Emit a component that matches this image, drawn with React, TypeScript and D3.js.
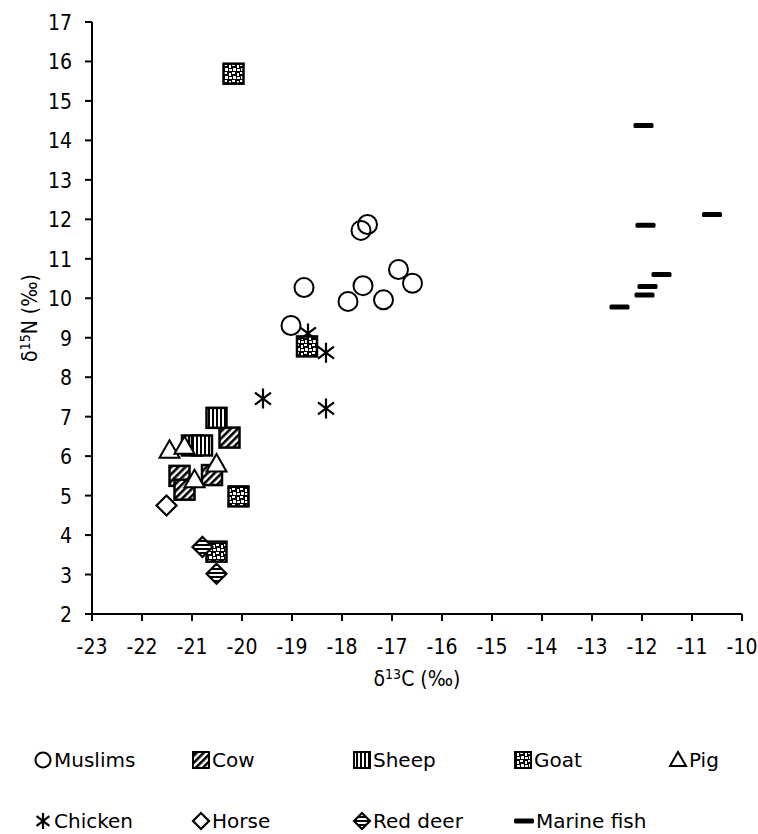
import React from 'react';
import * as d3 from 'd3';

// [δ13C, δ15N]
const muslims: [number, number][] = [
  [-17.62, 11.72], [-17.49, 11.87], [-18.76, 10.27], [-17.58, 10.32], [-17.88, 9.92],
  [-17.17, 9.96], [-16.87, 10.73], [-16.59, 10.38], [-19.02, 9.31],
];
const cow: [number, number][] = [[-20.25, 6.47], [-21.25, 5.5], [-21.15, 5.15], [-20.6, 5.52]];
const sheep: [number, number][] = [[-20.51, 6.97], [-21.0, 6.27], [-20.8, 6.27]];
const goat: [number, number][] = [[-20.17, 15.69], [-18.7, 8.78], [-20.07, 4.98], [-20.51, 3.58]];
const pig: [number, number][] = [[-21.45, 6.15], [-21.15, 6.25], [-20.95, 5.4], [-20.51, 5.8]];
const chicken: [number, number][] = [[-18.68, 9.11], [-18.32, 8.62], [-18.32, 7.21], [-19.58, 7.46]];
const horse: [number, number][] = [[-21.51, 4.75]];
const redDeer: [number, number][] = [[-20.79, 3.7], [-20.51, 3.02]];
const marineFish: [number, number][] = [
  [-11.97, 14.38], [-11.93, 11.85], [-10.6, 12.12], [-11.61, 10.6],
  [-11.89, 10.3], [-11.95, 10.08], [-12.45, 9.78],
];

const xTicks = d3.range(-23, -9, 1);
const yTicks = d3.range(2, 18, 1);

type Kind = 'circle' | 'cow' | 'sheep' | 'goat' | 'pig' | 'chicken' | 'horse' | 'deer' | 'fish';

const series: { name: string; kind: Kind; data: [number, number][] }[] = [
  { name: 'Muslims', kind: 'circle', data: muslims },
  { name: 'Cow', kind: 'cow', data: cow },
  { name: 'Sheep', kind: 'sheep', data: sheep },
  { name: 'Goat', kind: 'goat', data: goat },
  { name: 'Pig', kind: 'pig', data: pig },
  { name: 'Chicken', kind: 'chicken', data: chicken },
  { name: 'Horse', kind: 'horse', data: horse },
  { name: 'Red deer', kind: 'deer', data: redDeer },
  { name: 'Marine fish', kind: 'fish', data: marineFish },
];

const FONT = '"DejaVu Sans", Verdana, sans-serif';
const COND = '"DejaVu Sans Condensed", "DejaVu Sans", sans-serif';

const Marker = ({ kind, x, y, s }: { kind: Kind; x: number; y: number; s: number }) => {
  const h = s / 2;
  const sw = s > 16 ? 2.5 : 2;
  switch (kind) {
    case 'circle':
      return <circle cx={x} cy={y} r={h - 0.5} fill="none" stroke="#000" strokeWidth={2} />;
    case 'cow':
    case 'sheep':
    case 'goat':
      return (
        <rect x={x - h} y={y - h} width={s} height={s}
          fill={`url(#pat-${kind})`} stroke="#000" strokeWidth={sw} />
      );
    case 'pig': {
      const p = `M${x},${y - h}L${x + h},${y + h * 0.75}L${x - h},${y + h * 0.75}Z`;
      return <path d={p} fill="#fff" stroke="#000" strokeWidth={2} />;
    }
    case 'horse':
    case 'deer': {
      const p = `M${x},${y - h}L${x + h},${y}L${x},${y + h}L${x - h},${y}Z`;
      return <path d={p} fill={kind === 'deer' ? 'url(#pat-deer)' : '#fff'} stroke="#000" strokeWidth={2.2} />;
    }
    case 'chicken': {
      const a = h * 0.8, b = h * 0.6;
      const p = `M${x},${y - h}L${x},${y + h}M${x - a},${y - b}L${x + a},${y + b}M${x + a},${y - b}L${x - a},${y + b}`;
      return <path d={p} stroke="#000" strokeWidth={2.2} fill="none" />;
    }
    case 'fish':
      return <rect x={x - h} y={y - 2.5} width={s} height={5} rx={1.5} fill="#000" />;
  }
  return null;
};

const legendItems: { name: string; kind: Kind; x: number; row: number }[] = [
  { name: 'Muslims', kind: 'circle', x: 43, row: 0 },
  { name: 'Cow', kind: 'cow', x: 201, row: 0 },
  { name: 'Sheep', kind: 'sheep', x: 362, row: 0 },
  { name: 'Goat', kind: 'goat', x: 523, row: 0 },
  { name: 'Pig', kind: 'pig', x: 678, row: 0 },
  { name: 'Chicken', kind: 'chicken', x: 43, row: 1 },
  { name: 'Horse', kind: 'horse', x: 201, row: 1 },
  { name: 'Red deer', kind: 'deer', x: 362, row: 1 },
  { name: 'Marine fish', kind: 'fish', x: 524, row: 1 },
];

export default function App() {
  const x = d3.scaleLinear().domain([-23, -10]).range([92, 742]);
  const y = d3.scaleLinear().domain([2, 17]).range([614, 22]);
  const [x0, x1] = x.range();
  const [y0, y1] = y.range();

  return (
    <svg width={758} height={834} style={{ position: 'absolute', left: 0, top: 0, background: '#fff' }}
      fontFamily={FONT}>
      <defs>
        <pattern id="pat-cow" width={5} height={5} patternUnits="userSpaceOnUse" patternTransform="rotate(45)">
          <rect width={5} height={5} fill="#fff" />
          <rect width={2.6} height={5} fill="#000" />
        </pattern>
        <pattern id="pat-sheep" width={4} height={4} patternUnits="userSpaceOnUse">
          <rect width={4} height={4} fill="#fff" />
          <rect width={2} height={4} fill="#000" />
        </pattern>
        <pattern id="pat-deer" width={4} height={4} patternUnits="userSpaceOnUse">
          <rect width={4} height={4} fill="#fff" />
          <rect width={4} height={2} fill="#000" />
        </pattern>
        <pattern id="pat-goat" width={8} height={8} patternUnits="userSpaceOnUse">
          <rect width={8} height={8} fill="#000" />
          <rect x={0} y={0} width={3} height={2} fill="#fff" />
          <rect x={5} y={1} width={2} height={3} fill="#fff" />
          <rect x={1} y={4} width={3} height={3} fill="#fff" />
          <rect x={5} y={5} width={3} height={2} fill="#fff" />
        </pattern>
      </defs>

      {/* axes */}
      <line x1={x0} x2={x1} y1={y0} y2={y0} stroke="#000" strokeWidth={2} />
      <line x1={x0} x2={x0} y1={y0} y2={y1} stroke="#000" strokeWidth={2} />
      {xTicks.map(t => (
        <g key={`xt${t}`}>
          <line x1={x(t)} x2={x(t)} y1={y0} y2={y0 + 7} stroke="#000" strokeWidth={2} />
          <text x={x(t)} y={654} textAnchor="middle" fontSize={21} fontFamily={COND}>{t}</text>
        </g>
      ))}
      {yTicks.map(t => (
        <g key={`yt${t}`}>
          <line x1={x0 - 7} x2={x0} y1={y(t)} y2={y(t)} stroke="#000" strokeWidth={2} />
          <text x={72} y={y(t) + 8} textAnchor="end" fontSize={21} fontFamily={COND}>{t}</text>
        </g>
      ))}
      <text x={(x0 + x1) / 2} y={686} textAnchor="middle" fontSize={21} fontFamily={COND}>
        δ<tspan fontSize={14} dy={-7}>13</tspan><tspan dy={7}>C (‰)</tspan>
      </text>
      <text transform={`translate(37,${(y0 + y1) / 2}) rotate(-90)`} textAnchor="middle" fontSize={21} fontFamily={COND}>
        δ<tspan fontSize={14} dy={-7}>15</tspan><tspan dy={7}>N (‰)</tspan>
      </text>

      {/* points */}
      {series.map(s => (
        <g key={s.name}>
          {s.data.map((d, i) => (
            <Marker key={i} kind={s.kind} x={x(d[0])} y={y(d[1])} s={20} />
          ))}
        </g>
      ))}

      {/* legend */}
      {legendItems.map(l => {
        const cy = l.row === 0 ? 760 : 821;
        return (
          <g key={l.name}>
            <Marker kind={l.kind} x={l.x} y={cy} s={l.kind === 'fish' ? 20 : 16} />
            <text x={l.x + (l.kind === 'fish' ? 12 : 11)} y={cy + 7} fontSize={20}>{l.name}</text>
          </g>
        );
      })}
    </svg>
  );
}
